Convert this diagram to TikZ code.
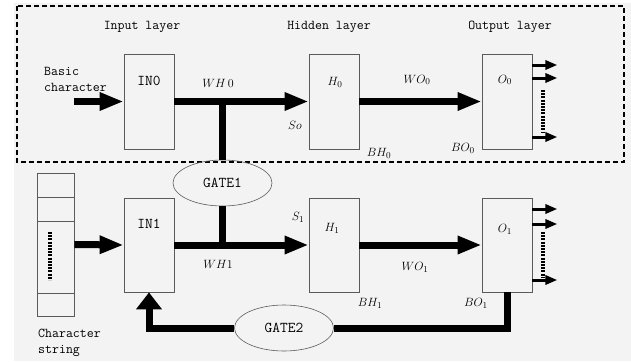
\documentclass[tikz,border=0pt]{standalone}
\usepackage{fontspec}
\usetikzlibrary{arrows.meta,shapes.geometric}

\definecolor{bggray}{RGB}{243,243,243}
\definecolor{edgegray}{RGB}{90,90,90}

\begin{document}
\begin{tikzpicture}[x=1pt,y=-1pt,
    font=\ttfamily\fontsize{13.5}{16}\selectfont,
    layerbox/.style={draw=edgegray,line width=0.8pt,minimum width=50pt,minimum height=95pt,inner sep=0pt},
    gate/.style={ellipse,draw=edgegray,line width=0.6pt,minimum width=99pt,minimum height=46pt,inner sep=0pt,font=\ttfamily\fontsize{15}{17}\selectfont},
    big/.style={font=\ttfamily\fontsize{15}{17}\selectfont},
    sym/.style={font=\fontsize{12.5}{15}\selectfont},
    thickline/.style={line width=7pt},
    thickarrow/.style={line width=7pt,-{Triangle[length=24pt,width=17pt]}},
    outarrow/.style={line width=3pt,-{Triangle[length=12pt,width=9pt]}},
    dots/.style={line width=3.5pt,dash pattern=on 2pt off 1.2pt}]
    \useasboundingbox (0,0) rectangle (631,361);
    \fill[bggray] (14,3) rectangle (631,361);
    % Dashed frame round the first row
    \draw[line width=1.5pt,dash pattern=on 5pt off 3pt] (17,6) rectangle (624,162);

    % Layer titles
    \node (intitle) at (142,27) {Input layer};
    \node (hidtitle) at (329,27) {Hidden layer};
    \node (outtitle) at (510,27) {Output layer};

    % First row
    \node (in0) [layerbox] at (149,101.5) {};
    \node (h0) [layerbox] at (334,101.5) {};
    \node (o0) [layerbox] at (507,101.5) {};
    \node[big] at (149,81) {IN0};
    \node[sym] at (335,82) {$H_0$};
    \node[sym] at (505,80) {$O_0$};
    \node [anchor=west,align=left,inner sep=0pt] at (44,79) {Basic\\character};
    \coordinate (basicin) at (74,101.5);
    \draw[thickarrow] (basicin) -- (in0.west);
    \draw[thickarrow] (in0.east) -- (h0.west);
    \draw[thickarrow] (h0.east) -- (o0.west);
    \node[sym] at (218,83) {$WH\,0$};
    \node[sym] at (295,125) {$So$};
    \node[sym] at (417,80) {$WO_0$};
    \node[sym] at (379,153) {$BH_0$};
    \node[sym] at (463,148) {$BO_0$};
    \foreach \y in {65,78,137}
        \draw[outarrow] (o0.east |- 0,\y) -- ++(25,0);
    \draw[dots] (543,90) -- (543,132);

    % Second row
    \node (strcol) [draw=edgegray,line width=0.8pt,minimum width=37pt,minimum height=143pt,inner sep=0pt] at (55.5,244.5) {};
    \draw[edgegray,line width=0.8pt] (37,197) -- (74,197) (37,221) -- (74,221) (37,293) -- (74,293);
    \draw[dots] (50,232) -- (50,280);
    \node [anchor=west,align=left,inner sep=0pt] at (38,343) {Character\\string};

    \node (in1) [layerbox,minimum height=94pt] at (149,245) {};
    \node (h1) [layerbox,minimum height=94pt] at (334,245) {};
    \node (o1) [layerbox,minimum height=94pt] at (507,245) {};
    \node[big] at (149,224) {IN1};
    \node[sym] at (332,228) {$H_1$};
    \node[sym] at (505,229) {$O_1$};
    \draw[thickarrow] (strcol.east) -- (in1.west);
    \draw[thickarrow] (in1.east) -- (h1.west);
    \draw[thickarrow] (h1.east) -- (o1.west);
    \node[sym] at (298,217) {$S_1$};
    \node[sym] at (218,264) {$WH1$};
    \node[sym] at (415,267) {$WO_1$};
    \node[sym] at (370,303) {$BH_1$};
    \node[sym] at (476,303) {$BO_1$};
    \foreach \y in {209,224,280}
        \draw[outarrow] (o1.east |- 0,\y) -- ++(25,0);
    \draw[dots] (543,232) -- (543,277);

    % Gates
    \node (gate1) [gate] at (222.5,183) {GATE1};
    \node (gate2) [gate] at (284,328) {GATE2};
    \draw[thickline] (gate1.north) -- (gate1.north |- h0.west);
    \draw[thickline] (gate1.south) -- (gate1.south |- h1.west);

    % Feedback through GATE2
    \draw[thickline] (o1.south) |- (gate2.east);
    \draw[line width=7pt,-{Triangle[length=17pt,width=25pt]}] (gate2.west) -| (in1.south);
\end{tikzpicture}
\end{document}
